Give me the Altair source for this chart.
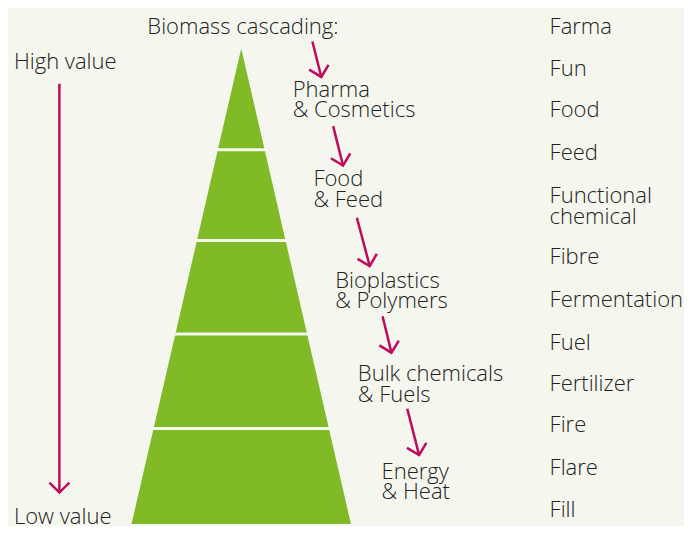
import math
import altair as alt
import pandas as pd

# ---------------- data ----------------
# pyramid geometry (diagram units = reference pixels)
pyramid_center = 244
pyramid_apex = 49
pyramid_base = 532
pyramid_base_half = 111
tier_bounds = [49, 152, 244, 339, 435, 532]
tier_gap = 3

# cascade labels beside the pyramid
cascade_lines = [
    ["Pharma", "& Cosmetics"],
    ["Food", "& Feed"],
    ["Bioplastics", "& Polymers"],
    ["Bulk chemicals", "& Fuels"],
    ["Energy", "& Heat"],
]
cascade_x = [296, 317, 339, 362, 386]
cascade_base = [98, 189, 292, 387, 486]

# the twelve "F" words on the right
f_words = [["Farma"], ["Fun"], ["Food"], ["Feed"], ["Functional", "chemical"],
           ["Fibre"], ["Fermentation"], ["Fuel"], ["Fertilizer"], ["Fire"],
           ["Flare"], ["Fill"]]
f_x = 556
f_base = [34, 77, 119, 162, 206, 268, 312, 355, 397, 439, 482, 525]

# other titles
titles = ["Biomass cascading:", "High value", "Low value"]
titles_x = [149, 14, 14]
titles_base = [34, 70, 532]

# arrows (start -> tip)
arrow_x1 = [316, 337, 361, 387, 412, 60]
arrow_y1 = [42, 128, 221, 321, 415, 85]
arrow_x2 = [325, 347, 374, 396, 424, 60]
arrow_y2 = [78, 168, 270, 358, 462, 500]

line_step = 21

# ---------------- styles ----------------
BG = "#f5f7ee"
GREEN = "#80ba27"
MAGENTA = "#c10a5d"
INK = "#222222"
FONT = "Open Sans"
FS = 22

# ---------------- tables ----------------
def half_width(y):
    return pyramid_base_half * (y - pyramid_apex) / (pyramid_base - pyramid_apex)

rows = []
n_tiers = len(tier_bounds) - 1
for i in range(n_tiers):
    top = tier_bounds[i] + (tier_gap / 2 if i > 0 else 0)
    bot = tier_bounds[i + 1] - (tier_gap / 2 if i < n_tiers - 1 else 0)
    for y in (top, bot):
        hw = half_width(y)
        rows.append({"tier": i, "y": y, "xl": pyramid_center - hw, "xr": pyramid_center + hw})
tiers = pd.DataFrame(rows)

arrows = pd.DataFrame({"x1": arrow_x1, "y1": arrow_y1, "x2": arrow_x2, "y2": arrow_y2})
arrows["angle"] = [
    (360 - math.degrees(math.atan2(x2 - x1, y2 - y1))) % 360
    for x1, y1, x2, y2 in zip(arrow_x1, arrow_y1, arrow_x2, arrow_y2)
]

trows = []
for lines, x, b in zip(cascade_lines, cascade_x, cascade_base):
    for k, t in enumerate(lines):
        trows.append({"text": t, "x": x, "y": b + k * line_step})
for lines, b in zip(f_words, f_base):
    for k, t in enumerate(lines):
        trows.append({"text": t, "x": f_x, "y": b + k * line_step})
for t, x, b in zip(titles, titles_x, titles_base):
    trows.append({"text": t, "x": x, "y": b})
texts = pd.DataFrame(trows)

# ---------------- chart ----------------
xs = alt.Scale(domain=[8, 692], nice=False, zero=False)
ys = alt.Scale(domain=[8, 534], reverse=True, nice=False, zero=False)

pyr = alt.Chart(tiers).mark_area(orient="horizontal", color=GREEN, opacity=1, line=False).encode(
    y=alt.Y("y:Q", scale=ys, axis=None),
    x=alt.X("xl:Q", scale=xs, axis=None, stack=None),
    x2="xr:Q",
    detail="tier:N",
)

shafts = alt.Chart(arrows).mark_rule(color=MAGENTA, strokeWidth=2.5, strokeCap="butt").encode(
    x=alt.X("x1:Q", scale=xs, axis=None),
    y=alt.Y("y1:Q", scale=ys, axis=None),
    x2="x2:Q",
    y2="y2:Q",
)

heads = alt.Chart(arrows).mark_point(
    shape="M-1,-1L0,0L1,-1", filled=False, stroke=MAGENTA, strokeWidth=2.5,
    size=400, opacity=1, strokeJoin="miter",
).encode(
    x=alt.X("x2:Q", scale=xs, axis=None),
    y=alt.Y("y2:Q", scale=ys, axis=None),
    angle=alt.Angle("angle:Q", scale=None),
)

labels = alt.Chart(texts).mark_text(
    align="left", baseline="alphabetic", font=FONT, fontSize=FS, fontWeight=300, color=INK,
).encode(
    x=alt.X("x:Q", scale=xs, axis=None),
    y=alt.Y("y:Q", scale=ys, axis=None),
    text="text:N",
)

chart = alt.layer(pyr, shafts, heads, labels).properties(
    width=676, height=518, padding=0, background=BG,
    autosize=alt.AutoSizeParams(type="none"),
).configure_view(stroke=None)

chart.save("out.html", embed_options={"renderer": "svg", "actions": False})
